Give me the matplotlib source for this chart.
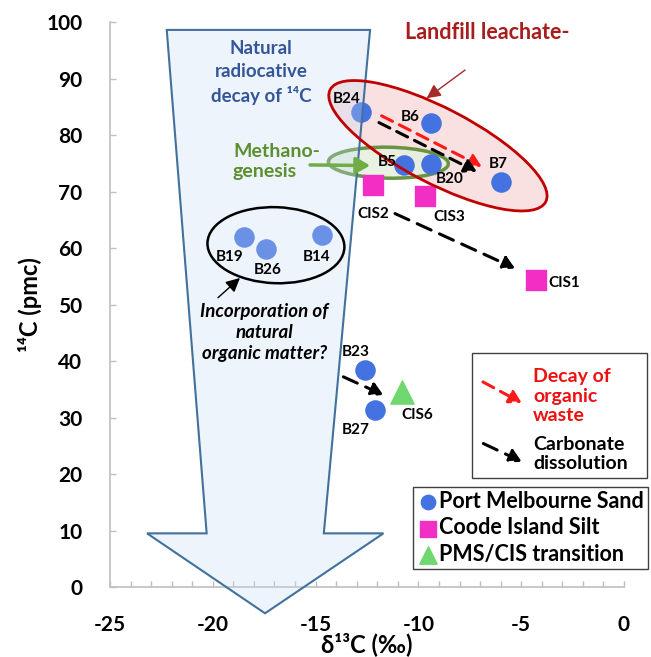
import matplotlib
matplotlib.use("Agg")
import matplotlib.pyplot as plt
import matplotlib.transforms as mtransforms
from matplotlib.patches import Ellipse, Polygon, Rectangle

plt.rcParams['font.family'] = ['Lato', 'DejaVu Sans']
plt.rcParams['axes.unicode_minus'] = False

# d13C (per mil) and 14C (pmc) by unit
pms_names = ["B24", "B6", "B5", "B20", "B7", "B19", "B26", "B14", "B23", "B27"]
pms_d13c = [-12.8, -9.4, -10.7, -9.4, -6.0, -18.5, -17.4, -14.7, -12.6, -12.1]
pms_c14 = [84.1, 82.2, 74.7, 74.9, 71.7, 61.9, 59.8, 62.3, 38.4, 31.3]

cis_names = ["CIS2", "CIS3", "CIS1"]
cis_d13c = [-12.2, -9.7, -4.3]
cis_c14 = [71.2, 69.2, 54.3]

trans_names = ["CIS6"]
trans_d13c = [-10.8]
trans_c14 = [34.6]

# label offsets in points
label_off = {
    "B24": (-10, 9), "B6": (-15, 4), "B5": (-12, 2), "B20": (14, -11),
    "B7": (-2, 13), "B19": (-10, -14), "B26": (1, -15), "B14": (-4, -16),
    "B23": (-7, 13), "B27": (-14, -14), "CIS2": (0, -21), "CIS3": (18, -15),
    "CIS1": (21, -2), "CIS6": (11, -17),
}

BLUE = "#4472e0"
PINK = "#f22fc4"
GREEN = "#6fd86f"

fig = plt.figure(figsize=(6.51, 6.57), dpi=100)
ax = fig.add_axes([0.169, 0.1065, 0.7895, 0.86])
ax.set_xlim(-25, 0)
ax.set_ylim(0, 100)

for side in ("top", "right"):
    ax.spines[side].set_visible(False)
for side in ("left", "bottom"):
    ax.spines[side].set_color("#bfbfbf")
    ax.spines[side].set_linewidth(1.2)
ax.set_xticks(range(-25, 1, 5))
ax.set_xticks(range(-25, 1), minor=True)
ax.set_yticks(range(0, 101, 10))
ax.tick_params(axis="both", which="both", direction="in", color="#bfbfbf",
               length=4, width=1, labelsize=15)
ax.tick_params(axis="x", which="major", pad=20)
ax.tick_params(axis="y", pad=20)
for lab in ax.get_xticklabels() + ax.get_yticklabels():
    lab.set_fontweight("bold")
ax.set_xlabel("δ¹³C (‰)", fontsize=17, fontweight="bold")
ax.set_ylabel("¹⁴C (pmc)", fontsize=17, fontweight="bold")
ax.xaxis.set_label_coords(0.499, -0.079)
ax.yaxis.set_label_coords(-0.132, 0.5)


def ell(cx, cy, w, h, ang, **kw):
    # ellipse sized in pixels, centred on a data point
    tr = fig.dpi_scale_trans + mtransforms.ScaledTranslation(cx, cy, ax.transData)
    e = Ellipse((0, 0), w / 100, h / 100, angle=ang, transform=tr, **kw)
    ax.add_patch(e)
    return e


# landfill leachate group
ell(-9.05, 78.1, 243, 75, -27.5, facecolor="#f9e1e1", edgecolor="none", zorder=1)
ell(-9.05, 78.1, 243, 75, -27.5, facecolor="none", edgecolor="#c00000", lw=2, zorder=4)
# methanogenesis group
ell(-11.46, 75.1, 120, 31, -1, facecolor="#e6f0df", edgecolor="#5a8a32",
    lw=2.5, alpha=0.9, zorder=1.5)
# natural organic matter group
ell(-16.93, 60.5, 137, 76, -2, facecolor="none", edgecolor="black", lw=1.8, zorder=4)

ax.scatter(pms_d13c, pms_c14, s=190, c=BLUE, marker="o", zorder=2,
           label="Port Melbourne Sand")
ax.scatter(cis_d13c, cis_c14, s=210, c=PINK, marker="s", zorder=2,
           label="Coode Island Silt")
ax.scatter(trans_d13c, trans_c14, s=280, c=GREEN, marker="^", zorder=2,
           label="PMS/CIS transition")

for names, xs, ys in ((pms_names, pms_d13c, pms_c14),
                      (cis_names, cis_d13c, cis_c14),
                      (trans_names, trans_d13c, trans_c14)):
    for n, x, y in zip(names, xs, ys):
        ax.annotate(n, (x, y), xytext=label_off[n], textcoords="offset points",
                    ha="center", va="center", fontsize=11, fontweight="bold",
                    zorder=5)

# big downward arrow for natural decay, semi-transparent over the points
arrow = Polygon([(-22.24, 98.6), (-12.35, 98.6), (-14.6, 9.5), (-11.7, 9.5),
                 (-17.46, -4.65), (-23.2, 9.5), (-20.3, 9.5)], closed=True,
                facecolor=(197 / 255, 219 / 255, 242 / 255, 0.3),
                edgecolor="#41719c", lw=1.5, zorder=3, clip_on=False)
ax.add_patch(arrow)


def dash_arrow(start, end, color, lw=2.2, dashes=(4, 2.5), hw=6, z=4):
    ax.annotate("", xy=end, xytext=start, zorder=z, annotation_clip=False,
                arrowprops=dict(arrowstyle="-|>,head_length=0.6,head_width=0.35",
                                color=color, lw=lw, linestyle=(0, dashes),
                                shrinkA=0, shrinkB=0, mutation_scale=hw * 2))


dash_arrow((-11.79, 83.4), (-6.92, 74.4), "#ff1a1a")
dash_arrow((-11.92, 82.2), (-7.16, 73.5), "black")
dash_arrow((-11.14, 66.1), (-5.30, 56.4), "black", dashes=(5, 3))
dash_arrow((-13.65, 37.2), (-11.71, 34.0), "black", dashes=(5, 3))

# pointers
ax.annotate("", xy=(-9.60, 86.5), xytext=(-7.73, 91.5), zorder=4,
            arrowprops=dict(arrowstyle="-|>,head_length=0.6,head_width=0.3",
                            color="#a52a2a", lw=1, shrinkA=0, shrinkB=0,
                            mutation_scale=14))
ax.annotate("", xy=(-12.35, 74.6), xytext=(-15.27, 74.7), zorder=4,
            arrowprops=dict(arrowstyle="-|>,head_length=0.6,head_width=0.35",
                            color="#70ad47", lw=2.5, shrinkA=0, shrinkB=0,
                            mutation_scale=14))
ax.annotate("", xy=(-18.68, 54.7), xytext=(-19.75, 51.2), zorder=4,
            arrowprops=dict(arrowstyle="-|>,head_length=0.6,head_width=0.3",
                            color="black", lw=1, shrinkA=0, shrinkB=0,
                            mutation_scale=14))

ax.text(-17.66, 91.0, "Natural\nradiocative\ndecay of ¹⁴C", ha="center",
        va="center", fontsize=13.5, fontweight="bold", color="#34559a",
        linespacing=1.4, zorder=5)
ax.text(-19.02, 75.3, "Methano-\ngenesis", ha="left", va="center", fontsize=14,
        fontweight="bold", color="#5b8f2f", linespacing=1.2, zorder=5)
ax.text(-6.66, 98.2, "Landfill leachate-", ha="center", va="center",
        fontsize=15.5, fontweight="bold", color="#a81c1c", zorder=5)
ax.text(-17.5, 45.0, "Incorporation of\nnatural\norganic matter?", ha="center",
        va="center", fontsize=13.5, fontweight="bold", style="italic",
        linespacing=1.3, zorder=5)

# process key
ax.add_patch(Rectangle((-7.41, 19.3), 8.51, 22.1, facecolor="white",
                       edgecolor="#404040", lw=1, zorder=5, clip_on=False))
dash_arrow((-6.86, 36.3), (-4.98, 32.6), "#ff1a1a", z=6)
dash_arrow((-6.84, 25.4), (-4.98, 22.2), "black", dashes=(5, 3), z=6)
ax.text(-4.43, 33.8, "Decay of\norganic\nwaste", ha="left", va="center",
        fontsize=14, fontweight="bold", color="#ee1111", linespacing=1.15, zorder=6)
ax.text(-4.43, 23.5, "Carbonate\ndissolution", ha="left", va="center",
        fontsize=14, fontweight="bold", color="black", linespacing=1.15, zorder=6)

leg = ax.legend(loc="upper right", bbox_to_anchor=(648.3 / 651, 1 - 486.7 / 657),
                bbox_transform=fig.transFigure, frameon=True, fancybox=False,
                edgecolor="#404040", framealpha=1, fontsize=15.5,
                handletextpad=0.0, handlelength=1.0, borderpad=0.2,
                labelspacing=0.25, borderaxespad=0, markerscale=0.75)
leg.get_frame().set_linewidth(1)
leg.set_zorder(6)
for t in leg.get_texts():
    t.set_fontweight("bold")

fig.savefig("out.png", dpi=100)
